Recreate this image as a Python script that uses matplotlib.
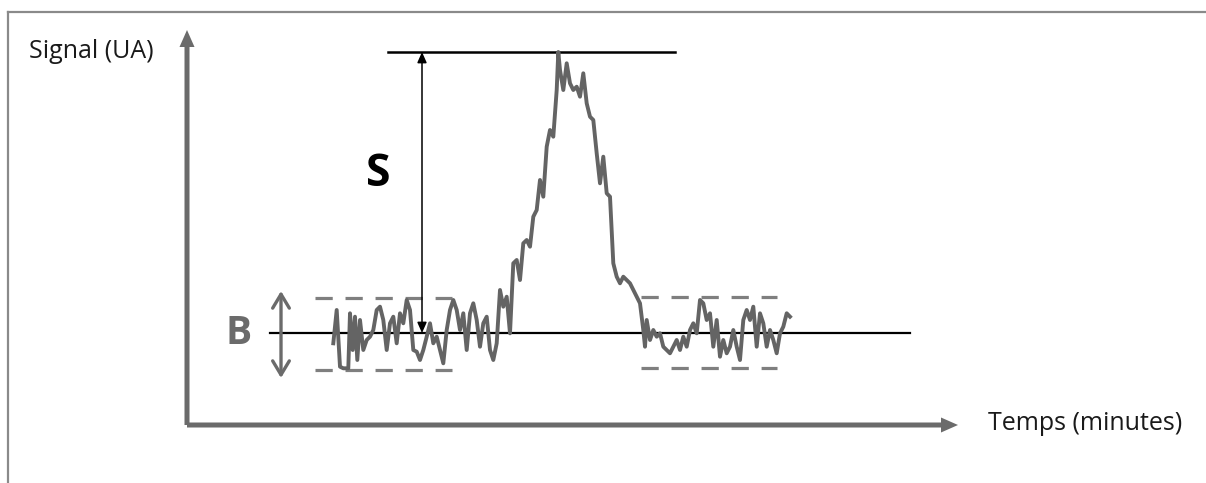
import matplotlib
matplotlib.use("Agg")
import matplotlib.pyplot as plt
from matplotlib.lines import Line2D

# ---- data (time in arbitrary units, signal in arbitrary units) ----
time = [146.3, 149.7, 153, 156.3, 161.3, 163, 165.7, 168, 170.3, 173, 176.3, 179.7,
        183, 186.3, 189.7, 193, 196.3, 199.7, 203, 206.3, 209.7, 213, 216.3, 219.7,
        223, 226.3, 229.7, 233, 236.3, 239.7, 243, 246.3, 249.7, 253, 256.3, 259.7,
        263, 266.3, 269.7, 273, 276.3, 279.7, 283, 286.3, 289.7, 293, 296.3, 299.7,
        303, 306.3, 309.7, 313, 316.3, 319.7, 323, 326.3, 329.7, 333, 336.3, 339.7,
        343, 346.3, 349.7, 353, 356.3, 359.7, 363, 366.3, 369.7, 371.3, 373, 376.3,
        379.7, 383, 386.3, 389.7, 393, 396.3, 399.7, 403, 406.3, 409.7, 413, 416.3,
        419.7, 423, 426.3, 429.7, 433, 436.3, 439.7, 443, 446.3, 449.7, 453, 456.3,
        458, 459.7, 463, 466.3, 469.7, 473, 476.3, 479.7, 483, 486.3, 489.7, 493,
        496.3, 499.7, 503, 506.3, 509.7, 513, 516.3, 519.7, 523, 526.3, 529.7, 533,
        536.3, 539.7, 543, 546.3, 549.7, 553, 556.3, 559.7, 563, 566.3, 569.7, 573,
        576.3, 579.7, 583, 586.3, 589.7, 593, 596.3, 599.7, 603]
signal = [81.7, 115, 58.3, 56.7, 56.7, 111.7, 75, 108.3, 65, 105, 75, 85,
          88.3, 95, 115, 118.3, 105, 75, 101.7, 108.3, 81.7, 111.7, 101.7, 125,
          115, 75, 73.3, 65, 75, 88.3, 101.7, 81.7, 88.3, 75, 61.7, 95,
          115, 125, 115, 95, 111.7, 75, 111.7, 121.7, 105, 78.3, 101.7, 108.3,
          75, 65, 81.7, 135, 118.3, 128.3, 91.7, 161.7, 165, 145, 181.7, 185,
          178.3, 208.3, 215, 245, 228.3, 278.3, 295, 288.3, 335, 373, 355, 335,
          361.7, 341.7, 335, 338.3, 328.3, 351.7, 321.7, 308.3, 305, 271.7, 241.7, 268.3,
          231.7, 228.3, 161.7, 148.3, 141.7, 148.3, 145, 141.7, 135, 128.3, 121.7, 95,
          78.3, 105, 85, 95, 88.3, 91.7, 78.3, 75, 71.7, 78.3, 85, 75,
          88.3, 78.3, 95, 101.7, 91.7, 125, 121.7, 105, 111.7, 78.3, 105, 68.3,
          85, 71.7, 78.3, 95, 78.3, 65, 105, 115, 105, 118.3, 78.3, 111.7,
          101.7, 78.3, 95, 85, 71.7, 91.7, 98.3, 111.7, 108.3]

baseline_level = 92
peak_level = 373
noise_left_range = (128, 265)
noise_right_range = (454, 590)
noise_left_band = (55, 127)
noise_right_band = (57, 128)

x_label = "Temps (minutes)"
y_label = "Signal (UA)"

GRAY = "#6b6b6b"
TRACE = "#646464"
DASH = "#7f7f7f"

fig = plt.figure(figsize=(12.06, 4.83), dpi=100)
ax = fig.add_axes([0, 0, 1, 1])
ax.set_xlim(-187, 1019)
ax.set_ylim(-58, 425)
ax.axis("off")

# frame (top and left only)
fig.add_artist(Line2D([8 / 1206, 1], [1 - 12 / 483, 1 - 12 / 483], color="#8a8a8a", lw=1.6,
                      transform=fig.transFigure))
fig.add_artist(Line2D([8 / 1206, 8 / 1206], [0, 1 - 12 / 483], color="#8a8a8a", lw=1.6,
                      transform=fig.transFigure))

# axes arrows
ax.arrow(0, 0, 0, 395, width=5, head_width=15, head_length=17,
         length_includes_head=True, color=GRAY, lw=0)
ax.arrow(0, 0, 771, 0, width=5, head_width=15, head_length=17,
         length_includes_head=True, color=GRAY, lw=0)

# reference lines
ax.plot([83, 723], [baseline_level, baseline_level], color="black", lw=1.6)
ax.plot([201, 488], [peak_level, peak_level], color="black", lw=1.8)

# noise bands
for (t0, t1), (b0, b1) in [(noise_left_range, noise_left_band),
                           (noise_right_range, noise_right_band)]:
    for lvl in (b0, b1):
        ax.plot([t0, t1], [lvl, lvl], color=DASH, lw=2.3,
                linestyle=(0, (5.4, 4.0)), dash_capstyle="butt")

# signal trace
ax.plot(time, signal, color=TRACE, lw=2.8, solid_joinstyle="round")

# S arrow
ax.annotate("", xy=(235, peak_level), xytext=(235, baseline_level),
            arrowprops=dict(arrowstyle="<|-|>,head_length=0.45,head_width=0.2",
                            lw=1.1, color="black", shrinkA=0, shrinkB=0,
                            mutation_scale=14))
# B arrow
ax.annotate("", xy=(94, 134), xytext=(94, 47),
            arrowprops=dict(arrowstyle="<->,head_length=0.5,head_width=0.3",
                            lw=2.4, color=GRAY, shrinkA=0, shrinkB=0,
                            mutation_scale=20))

# texts
ax.text(-158, 373, y_label, ha="left", va="center", fontsize=18,
        family="Open Sans", color="#1a1a1a")
ax.text(801, 2, x_label, ha="left", va="center", fontsize=18,
        family="Open Sans", color="#1a1a1a")
ax.text(191, 251, "S", ha="center", va="center", fontsize=32,
        family="Open Sans", fontweight="bold", color="black")
ax.text(52, 92, "B", ha="center", va="center", fontsize=28,
        family="Open Sans", fontweight="bold", color=GRAY)

fig.savefig("out.png", dpi=100)
